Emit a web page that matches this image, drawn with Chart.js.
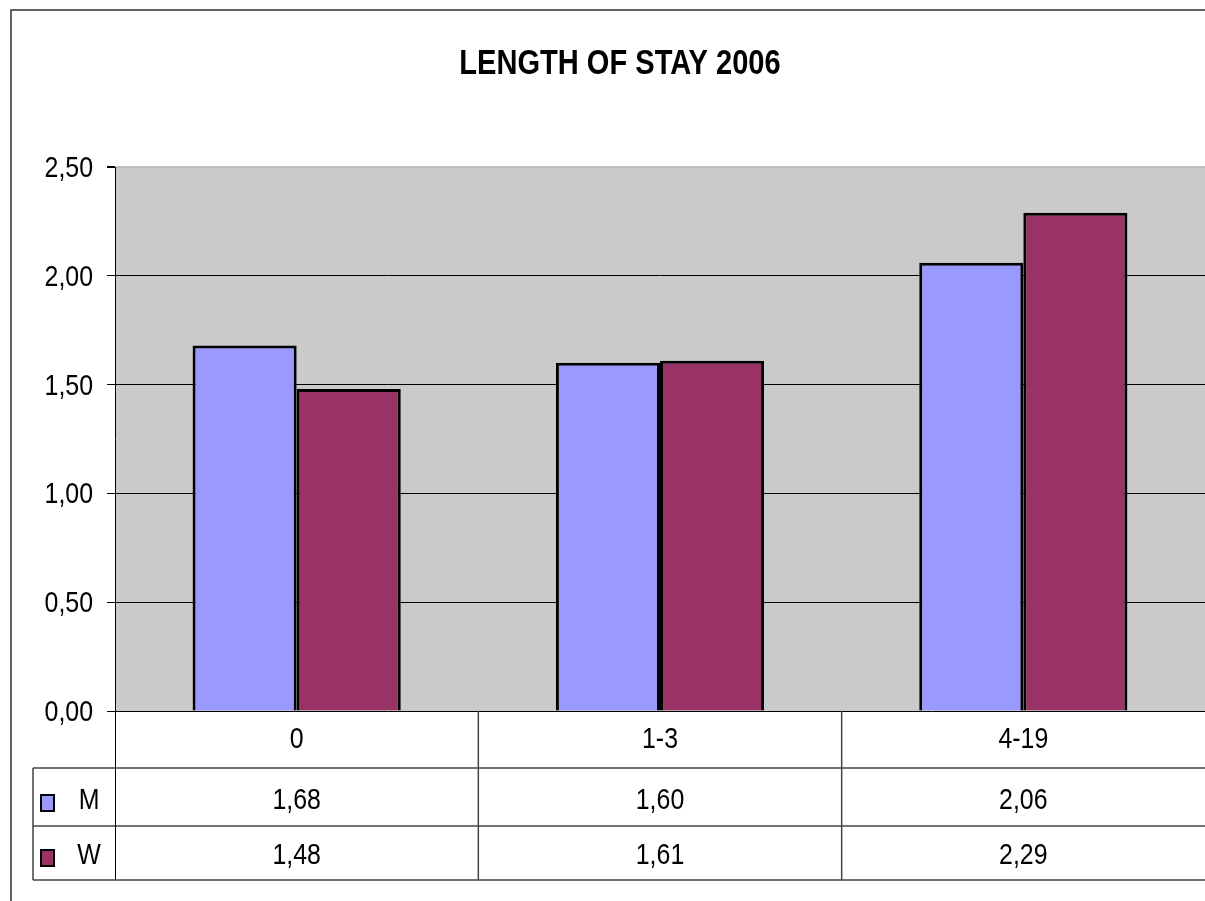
<!DOCTYPE html>
<html>
<head>
<meta charset="utf-8">
<title>Length of stay 2006</title>
<script src="https://cdn.jsdelivr.net/npm/chart.js@4/dist/chart.umd.min.js"></script>
<style>
  html, body { margin: 0; padding: 0; background: #fff; overflow: hidden; }
  canvas { display: block; }
</style>
</head>
<body>
<canvas id="grafEstancia" width="1205" height="901"></canvas>
<script>
window.onload = function() {
    inicial();
}

//-------------datos-----------------//
const titulo = 'LENGTH OF STAY 2006';
const categorias = ['0', '1-3', '4-19'];
const serieM = [1.68, 1.60, 2.06];
const serieW = [1.48, 1.61, 2.29];
const nombresSerie = ['M', 'W'];
const ticksY = [0, 0.5, 1, 1.5, 2, 2.5];

const colorM = '#9999ff';
const colorW = '#993366';
const fondoPlot = '#cacaca';
const fuenteNum = "30px 'Liberation Sans', Arial, sans-serif";
let myChart;
//-----------------------------------//

function coma(v) {
    return v.toFixed(2).replace('.', ',');
}

// texto estrecho (tipo Arial Narrow) escalando en horizontal
function textoEstrecho(ctx, txt, x, y, alin, fuente) {
    ctx.save();
    ctx.translate(x, y);
    ctx.scale(0.83, 1);
    ctx.font = fuente || fuenteNum;
    ctx.fillStyle = '#000';
    ctx.textAlign = alin || 'center';
    ctx.textBaseline = 'alphabetic';
    ctx.fillText(txt, 0, 0);
    ctx.restore();
}

// fondo gris del area de trazado
const fondoGris = {
    id: 'fondoGris',
    beforeDraw(chart) {
        const a = chart.chartArea;
        const ctx = chart.ctx;
        ctx.save();
        ctx.fillStyle = fondoPlot;
        ctx.fillRect(a.left, a.top, a.right - a.left, a.bottom - a.top);
        ctx.restore();
    }
};

// marco, titulo, etiquetas del eje y tabla de datos
const tablaDatos = {
    id: 'tablaDatos',
    afterDraw(chart) {
        const ctx = chart.ctx;
        const a = chart.chartArea;
        const x = chart.scales.x;
        const y = chart.scales.y;
        const ancho = chart.width;

        ctx.save();
        // marco exterior
        ctx.strokeStyle = '#333';
        ctx.lineWidth = 1.5;
        ctx.beginPath();
        ctx.moveTo(11, chart.height);
        ctx.lineTo(11, 10);
        ctx.lineTo(ancho, 10);
        ctx.stroke();

        // titulo
        textoEstrecho(ctx, titulo, 620, 74, 'center', "bold 35px 'Liberation Sans', Arial, sans-serif");

        // etiquetas del eje y
        ticksY.forEach(function(v) {
            textoEstrecho(ctx, coma(v), 93, y.getPixelForValue(v) + 10, 'right');
        });

        // filas de la tabla
        const filaCat = a.bottom;
        const filaM = 768;
        const filaW = 826;
        const finTabla = 880;
        const mitad = (x.getPixelForValue(1) - x.getPixelForValue(0)) / 2;

        ctx.strokeStyle = '#444';
        ctx.lineWidth = 1.5;
        ctx.beginPath();
        [filaM, filaW, finTabla].forEach(function(fy) {
            ctx.moveTo(33, fy);
            ctx.lineTo(ancho, fy);
        });
        ctx.moveTo(33, filaM);
        ctx.lineTo(33, finTabla);
        for (let i = 1; i < categorias.length; i++) {
            const sx = x.getPixelForValue(i) - mitad;
            ctx.moveTo(sx, filaCat);
            ctx.lineTo(sx, finTabla);
        }
        ctx.stroke();

        // continuacion del eje
        ctx.strokeStyle = '#000';
        ctx.lineWidth = 1;
        ctx.beginPath();
        ctx.moveTo(a.left + 0.5, filaCat);
        ctx.lineTo(a.left + 0.5, finTabla);
        ctx.stroke();

        for (let i = 0; i < categorias.length; i++) {
            const cx = x.getPixelForValue(i);
            textoEstrecho(ctx, categorias[i], cx, 748);
            textoEstrecho(ctx, coma(serieM[i]), cx, 809);
            textoEstrecho(ctx, coma(serieW[i]), cx, 864);
        }

        // leyenda dentro de la tabla
        const filas = [[serieColor(0), nombresSerie[0], 795, 809], [serieColor(1), nombresSerie[1], 850, 864]];
        filas.forEach(function(f) {
            ctx.fillStyle = f[0];
            ctx.fillRect(41, f[2], 13, 16);
            ctx.strokeStyle = '#000';
            ctx.lineWidth = 2;
            ctx.strokeRect(41, f[2], 13, 16);
            textoEstrecho(ctx, f[1], 89, f[3]);
        });
        ctx.restore();
    }
};

function serieColor(n) {
    return n == 0 ? colorM : colorW;
}

function inicial() {
    const ctx = document.getElementById('grafEstancia').getContext('2d');
    if (myChart) {
        myChart.destroy();
    }
    myChart = new Chart(ctx, {
        type: 'bar',
        data: {
            labels: categorias,
            datasets: [{
                label: nombresSerie[0],
                data: serieM,
                backgroundColor: colorM,
                borderColor: '#000',
                borderWidth: 3,
            }, {
                label: nombresSerie[1],
                data: serieW,
                backgroundColor: colorW,
                borderColor: '#000',
                borderWidth: 3,
            }]
        },
        options: {
            responsive: false,
            animation: false,
            devicePixelRatio: 1,
            layout: { padding: { top: 167, bottom: 190, left: 0, right: 0 } },
            datasets: {
                bar: { categoryPercentage: 0.573, barPercentage: 1 }
            },
            plugins: {
                legend: { display: false },
                tooltip: { enabled: false },
                title: { display: false }
            },
            scales: {
                x: {
                    display: false
                },
                y: {
                    min: 0,
                    max: 2.5,
                    afterFit: function(scale) { scale.width = 115; },
                    afterBuildTicks: function(scale) {
                        scale.ticks = ticksY.map(function(v) { return { value: v }; });
                    },
                    ticks: { display: false },
                    grid: {
                        tickLength: 8,
                        tickColor: '#000',
                        lineWidth: function(c) { return c.tick && c.tick.value == 2.5 ? 2 : 1; },
                        color: function(c) { return c.tick && c.tick.value == 2.5 ? '#bcbcbc' : '#000'; }
                    },
                    border: { display: true, color: '#000', width: 1 }
                }
            }
        },
        plugins: [fondoGris, tablaDatos]
    });
}
</script>
</body>
</html>
